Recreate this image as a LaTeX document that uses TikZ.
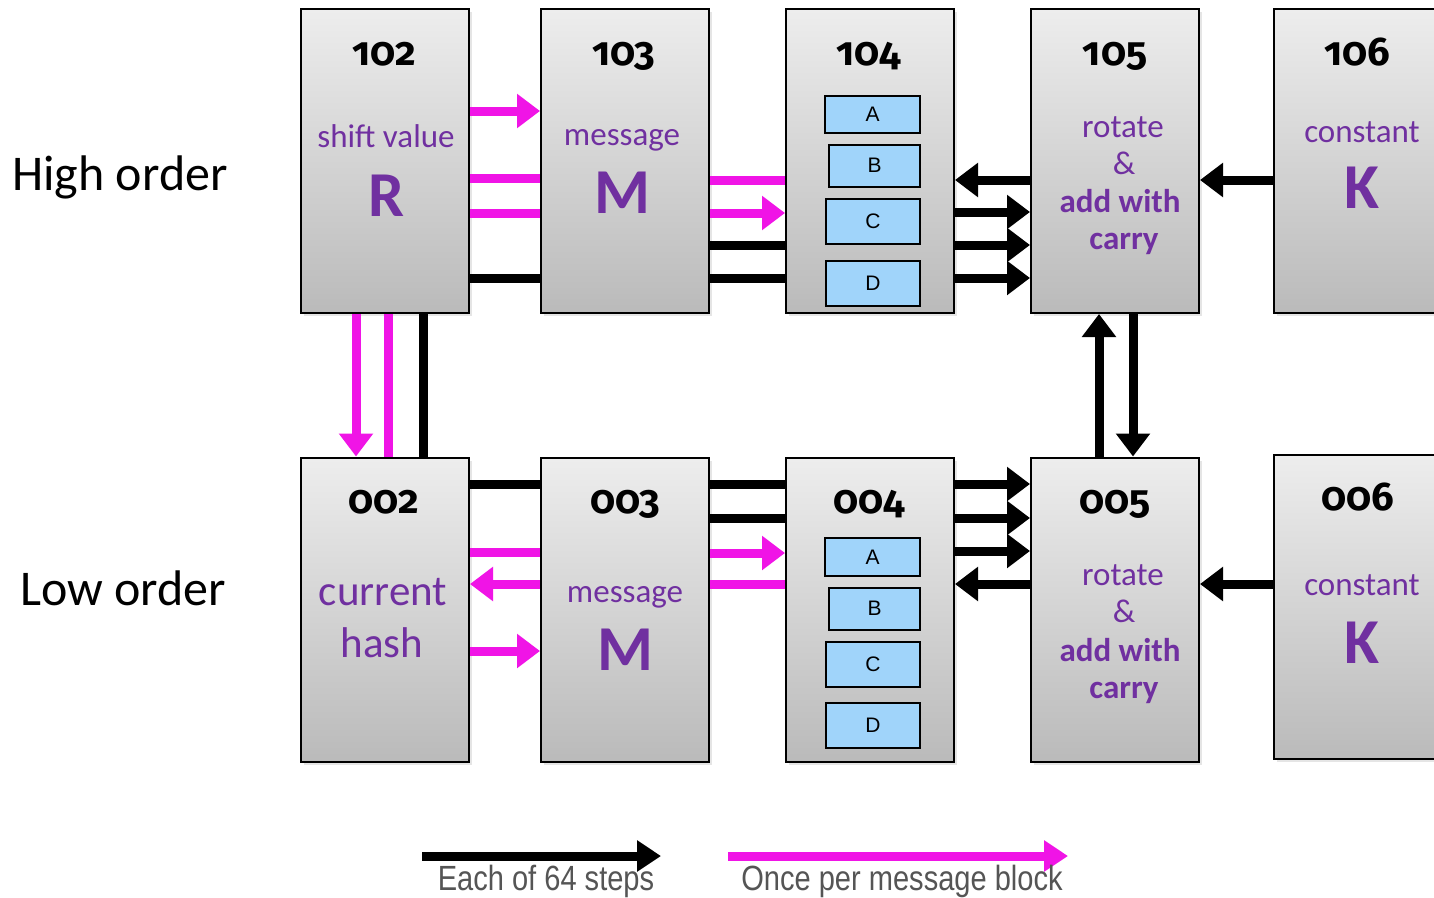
\documentclass[tikz,border=0pt]{standalone}
\usepackage{fontspec}
\setmainfont{Carlito}
\newfontfamily\numfont[Numbers=OldStyle]{Fira Sans}
\newfontfamily\regfont{Liberation Sans}
\newfontfamily\legfont[FakeStretch=0.83]{Liberation Sans}
\usetikzlibrary{arrows.meta,shadows}
\definecolor{pinkc}{RGB}{240,20,230}
\definecolor{purp}{RGB}{112,48,160}
\definecolor{regblue}{RGB}{160,212,250}
\definecolor{leggray}{RGB}{85,85,85}
\tikzset{
  blk/.style={draw=black, line width=2pt, top color=gray!14, bottom color=gray!54,
    minimum width=168pt, minimum height=304pt, inner sep=0pt,
    drop shadow={shadow xshift=3pt, shadow yshift=-3pt, opacity=0.2}},
  regbox/.style={draw=black, line width=2pt, fill=regblue, inner sep=0pt,
    font=\regfont\fontsize{21pt}{21pt}\selectfont},
  numtxt/.style={anchor=base, font=\numfont\bfseries\fontsize{40pt}{40pt}\selectfont},
  ptxt/.style={anchor=base, text=purp, font=\fontsize{33pt}{33pt}\selectfont},
  pbold/.style={anchor=base, text=purp, font=\bfseries\fontsize{33pt}{33pt}\selectfont},
  pbig/.style={anchor=base, text=purp, font=\bfseries\fontsize{64pt}{64pt}\selectfont},
  phash/.style={anchor=base, text=purp, font=\fontsize{43pt}{43pt}\selectfont},
  side/.style={anchor=base, font=\fontsize{50pt}{50pt}\selectfont},
  legtxt/.style={anchor=base, text=leggray, font=\legfont\fontsize{35pt}{35pt}\selectfont},
  bk/.style={line width=9pt, draw=black},
  pk/.style={line width=9pt, draw=pinkc},
  arr/.style={-{Triangle[length=23pt,width=33pt]}},
  legarr/.style={line width=9pt, -{Triangle[length=24pt,width=30pt]}}
}
\begin{document}
\begin{tikzpicture}[x=1pt,y=-1pt]
\useasboundingbox (0,0) rectangle (1434,897);
\fill[white] (0,0) rectangle (1434,897);

% blocks
\node[blk] (b102) at (385,161) {};
\node[blk] (b103) at (625,161) {};
\node[blk] (b104) at (870,161) {};
\node[blk] (b105) at (1115,161) {};
\node[blk, minimum width=166pt] (b106) at (1357,161) {};
\node[blk] (b002) at (385,609.5) {};
\node[blk] (b003) at (625,609.5) {};
\node[blk] (b004) at (870,609.5) {};
\node[blk] (b005) at (1115,609.5) {};
\node[blk, minimum width=166pt] (b006) at (1357,607) {};

% side labels
\node[side] (hi) at (120,190) {High order};
\node[side] (lo) at (123,605) {Low order};

% block texts top
\node[numtxt] (n102) at (384,65) {102};
\node[ptxt] (s102) at (386,147) {shift value};
\node[pbig] (r102) at (387,216) {R};
\node[numtxt] (n103) at (624,65) {103};
\node[ptxt] (s103) at (622,145) {message};
\node[pbig] (m103) at (622,213) {M};
\node[numtxt] (n104) at (869,65) {104};
\node[numtxt] (n105) at (1115,65) {105};
\node[ptxt] (s105a) at (1123,137) {rotate};
\node[ptxt] (s105b) at (1124,174) {\&};
\node[pbold] (s105c) at (1120,212) {add with};
\node[pbold] (s105d) at (1124,249) {carry};
\node[numtxt] (n106) at (1357,65) {106};
\node[ptxt] (s106) at (1362,142) {constant};
\node[pbig] (k106) at (1362,208) {K};

% block texts bottom
\node[numtxt] (n002) at (384,513) {002};
\node[phash] (s002a) at (383,605) {current};
\node[phash] (s002b) at (382,657) {hash};
\node[numtxt] (n003) at (625,513) {003};
\node[ptxt] (s003) at (625,602) {message};
\node[pbig] (m003) at (625,670) {M};
\node[numtxt] (n004) at (869,513) {004};
\node[numtxt] (n005) at (1115,513) {005};
\node[ptxt] (s005a) at (1123,585) {rotate};
\node[ptxt] (s005b) at (1124,622) {\&};
\node[pbold] (s005c) at (1120,661) {add with};
\node[pbold] (s005d) at (1124,698) {carry};
\node[numtxt] (n006) at (1358,510) {006};
\node[ptxt] (s006) at (1362,595) {constant};
\node[pbig] (k006) at (1362,663) {K};

% registers top
\node[regbox, minimum width=95pt, minimum height=37pt] (ra1) at (872.5,114.5) {A};
\node[regbox, minimum width=91pt, minimum height=42pt] (rb1) at (874.5,165.5) {B};
\node[regbox, minimum width=94pt, minimum height=45pt] (rc1) at (873,221.5) {C};
\node[regbox, minimum width=94pt, minimum height=45pt] (rd1) at (873,283) {D};
% registers bottom
\node[regbox, minimum width=95pt, minimum height=38pt] (ra2) at (872.5,557) {A};
\node[regbox, minimum width=91pt, minimum height=42pt] (rb2) at (874.5,608.5) {B};
\node[regbox, minimum width=94pt, minimum height=45pt] (rc2) at (873,664.5) {C};
\node[regbox, minimum width=94pt, minimum height=45pt] (rd2) at (873,725.5) {D};

% top row connectors
\draw[pk,arr] (b102.east |- 0,111) -- (b103.west |- 0,111);
\draw[pk] (b102.east |- 0,178) -- (b103.west |- 0,178);
\draw[pk] (b102.east |- 0,213) -- (b103.west |- 0,213);
\draw[bk] (b102.east |- 0,278) -- (b103.west |- 0,278);
\draw[pk] (b103.east |- 0,180) -- (b104.west |- 0,180);
\draw[pk,arr] (b103.east |- 0,213) -- (b104.west |- 0,213);
\draw[bk] (b103.east |- 0,245) -- (b104.west |- 0,245);
\draw[bk] (b103.east |- 0,278) -- (b104.west |- 0,278);
\draw[bk,arr] (b105.west |- 0,180) -- (b104.east |- 0,180);
\draw[bk,arr] (b104.east |- 0,212) -- (b105.west |- 0,212);
\draw[bk,arr] (b104.east |- 0,245) -- (b105.west |- 0,245);
\draw[bk,arr] (b104.east |- 0,278) -- (b105.west |- 0,278);
\draw[bk,arr] (b106.west |- 0,180) -- (b105.east |- 0,180);

% vertical connectors
\draw[pk,arr] (b102.south -| 356,0) -- (b002.north -| 356,0);
\draw[pk] (b102.south -| 388,0) -- (b002.north -| 388,0);
\draw[bk] (b102.south -| 423,0) -- (b002.north -| 423,0);
\draw[bk,arr] (b005.north -| 1099,0) -- (b105.south -| 1099,0);
\draw[bk,arr] (b105.south -| 1133,0) -- (b005.north -| 1133,0);

% bottom row connectors
\draw[bk] (b002.east |- 0,484) -- (b003.west |- 0,484);
\draw[pk] (b002.east |- 0,552) -- (b003.west |- 0,552);
\draw[pk,arr] (b003.west |- 0,584) -- (b002.east |- 0,584);
\draw[pk,arr] (b002.east |- 0,651) -- (b003.west |- 0,651);
\draw[bk] (b003.east |- 0,484) -- (b004.west |- 0,484);
\draw[bk] (b003.east |- 0,518) -- (b004.west |- 0,518);
\draw[pk,arr] (b003.east |- 0,553) -- (b004.west |- 0,553);
\draw[pk] (b003.east |- 0,584) -- (b004.west |- 0,584);
\draw[bk,arr] (b004.east |- 0,484) -- (b005.west |- 0,484);
\draw[bk,arr] (b004.east |- 0,518) -- (b005.west |- 0,518);
\draw[bk,arr] (b004.east |- 0,551) -- (b005.west |- 0,551);
\draw[bk,arr] (b005.west |- 0,584) -- (b004.east |- 0,584);
\draw[bk,arr] (b006.west |- 0,584) -- (b005.east |- 0,584);

% legend
\coordinate (l1s) at (422,856);
\coordinate (l1e) at (661,856);
\coordinate (l2s) at (728,856);
\coordinate (l2e) at (1068,856);
\draw[legarr, draw=black] (l1s) -- (l1e);
\draw[legarr, draw=pinkc] (l2s) -- (l2e);
\node[legtxt] (t1) at (546,890) {Each of 64 steps};
\node[legtxt] (t2) at (902,890) {Once per message block};
\end{tikzpicture}
\end{document}
